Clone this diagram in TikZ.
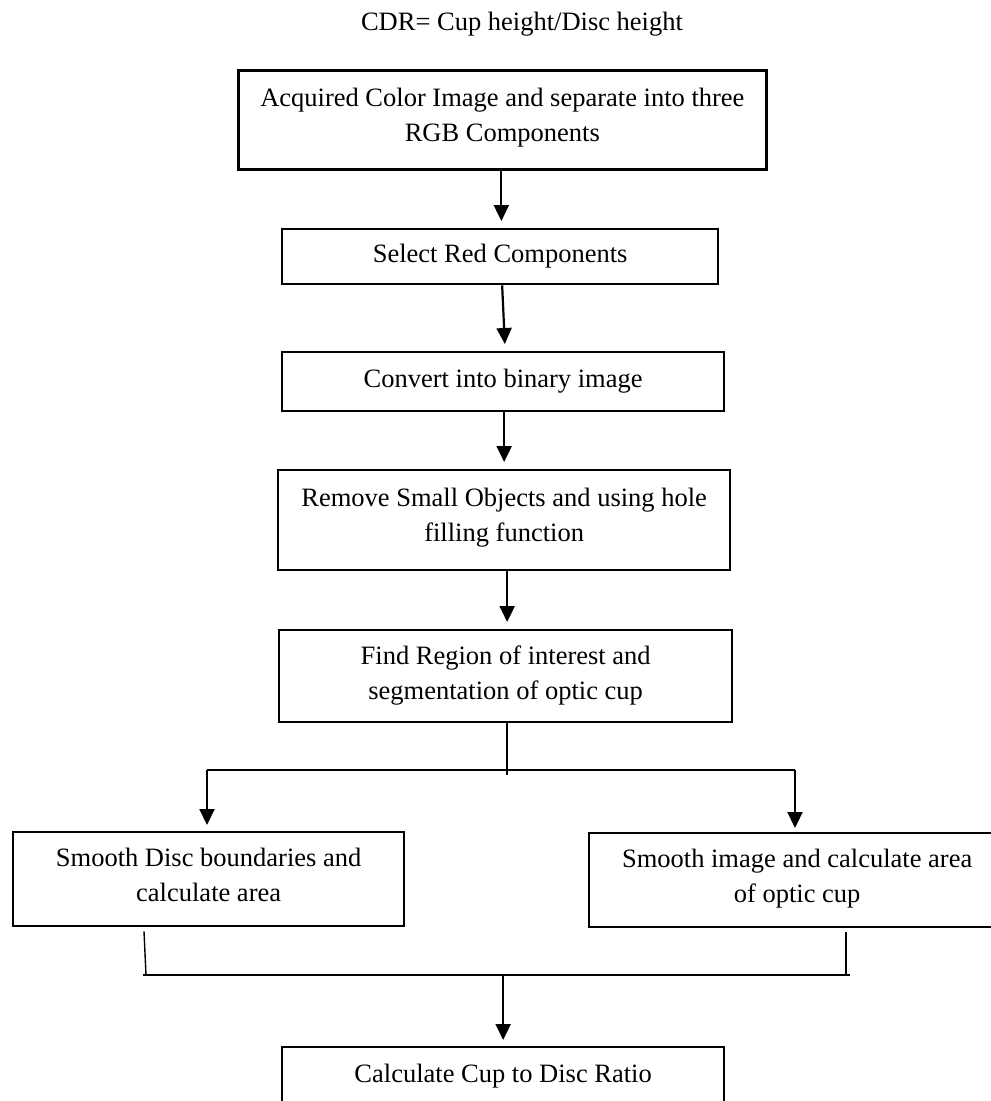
\documentclass[tikz,border=0pt]{standalone}
\usepackage{fontspec}
\setmainfont{Liberation Serif}
\usetikzlibrary{arrows.meta,calc}
\newcommand{\bxt}[4]{\parbox[c][#2pt][t]{#1pt}{\centering\rule{0pt}{#3pt}#4\par}}
\begin{document}
\begin{tikzpicture}[x=1pt,y=-1pt,
  txt/.style={font=\fontsize{26.5}{35.5}\selectfont},
  flowbox/.style={txt, draw, line width=2.3pt, inner sep=0pt, anchor=north west},
  arr/.style={line width=2.2pt, -{Triangle[length=16pt,width=15pt]}, shorten >=7pt},
  stub/.style={line width=1.4pt},
  bar/.style={line width=2pt}]
\useasboundingbox (0,0) rectangle (991,1101);
\node[txt, anchor=base] (title) at (522,30) {CDR= Cup height/Disc height};

\node[flowbox, line width=2.7pt] (b1) at (237,69) {\bxt{528}{99}{36}{Acquired Color Image and separate into three\\RGB Components}};
\node[flowbox] (b2) at (281,228) {\bxt{436}{55}{33}{Select Red Components}};
\node[flowbox] (b3) at (281,351) {\bxt{442}{59}{35}{Convert into binary image}};
\node[flowbox] (b4) at (277,469) {\bxt{452}{100}{36}{Remove Small Objects and using hole\\filling function}};
\node[flowbox] (b5) at (278,629) {\bxt{453}{92}{34}{Find Region of interest and\\segmentation of optic cup}};
\node[flowbox] (b6) at (12,831) {\bxt{391}{94}{34}{Smooth Disc boundaries and\\calculate area}};
\node[flowbox] (b7) at (588,832) {\bxt{416}{94}{34}{Smooth image and calculate area\\of optic cup}};
\node[flowbox] (b8) at (281,1046) {\bxt{442}{75}{35}{Calculate Cup to Disc Ratio}};

% straight chain
\draw[arr] ([xshift=-1pt]b1.south) -- ([xshift=-1pt]b1.south |- b2.north);
\draw[arr] ([xshift=2pt]b2.south) -- ([xshift=5pt]b2.south |- b3.north);
\draw[arr] ([xshift=1pt]b3.south) -- ([xshift=1pt]b3.south |- b4.north);
\draw[arr] ([xshift=3pt]b4.south) -- ([xshift=3pt]b4.south |- b5.north);

% split
\coordinate (s0) at ($(b5.south)+(1.5,52)$);
\coordinate (sl) at (207,770);
\coordinate (sr) at (795,770);
\draw[stub] ([xshift=1.5pt]b5.south) -- (s0);
\draw[bar] (sl) -- (sr);
\draw[arr, shorten >=6pt] (sl) -- (sl |- b6.north);
\draw[arr, shorten >=4pt] (sr) -- (sr |- b7.north);

% merge
\coordinate (ml1) at ($(b6.south west)+(132,4)$);
\coordinate (ml2) at (146,975);
\coordinate (mr1) at ($(b7.south west)+(258,4)$);
\coordinate (mr2) at (846,975);
\coordinate (mlend) at (143,975);
\coordinate (mrend) at (850,975);
\coordinate (m0) at (b8.north |- mlend);
\draw[stub] (ml1) -- (ml2);
\draw[stub] (mr1) -- (mr2);
\draw[bar] (mlend) -- (mrend);
\draw[arr, shorten >=6pt] (m0) -- (b8.north);
\end{tikzpicture}
\end{document}
